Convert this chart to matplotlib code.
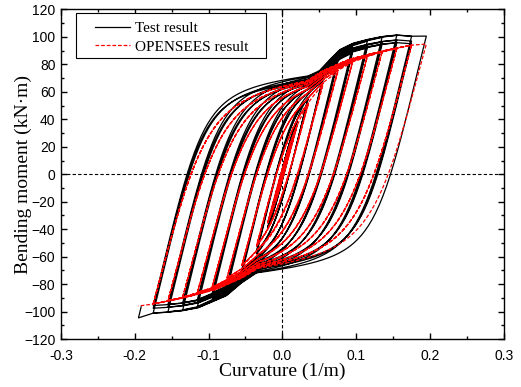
import numpy as np
import matplotlib
matplotlib.use("Agg")
import matplotlib.pyplot as plt
from matplotlib.patches import Rectangle
from matplotlib.ticker import MultipleLocator, FormatStrFormatter

# Loading protocol: curvature amplitudes (1/m) and cycles per amplitude
amplitudes = [0.005, 0.010, 0.020, 0.035, 0.055, 0.075, 0.095, 0.115, 0.135, 0.155, 0.175, 0.195]
cycles = [3, 3, 3, 3, 3, 3, 3, 3, 3, 3, 3, 1]

# Skeleton curves |curvature| -> |moment| (kN·m)
test_pos_k = [0.035, 0.050, 0.066, 0.078, 0.096, 0.115, 0.135, 0.155, 0.175, 0.195]
test_pos_m = [73.0, 76.5, 85.6, 92.0, 96.5, 99.0, 101.0, 102.0, 101.0, 101.0]
test_neg_k = [0.035, 0.055, 0.076, 0.096, 0.114, 0.135, 0.155, 0.175, 0.195]
test_neg_m = [73.0, 80.0, 89.5, 94.0, 98.0, 100.0, 101.0, 101.6, 105.0]
test_repeat_factor = [1.0, 0.965, 0.945]

sim_pos_k = [0.0325, 0.055, 0.091, 0.134, 0.175, 0.193]
sim_pos_m = [71.0, 78.3, 86.0, 91.2, 95.3, 95.8]
sim_neg_k = [0.0325, 0.055, 0.091, 0.134, 0.175, 0.193]
sim_neg_m = [71.0, 78.0, 86.0, 91.5, 95.6, 96.8]
sim_repeat_factor = [1.0, 1.0, 1.0]


def skeleton(ks, ms, s_ext):
    ks = np.asarray(ks, float)
    ms = np.asarray(ms, float)
    s_end = (ms[-1] - ms[-2]) / (ks[-1] - ks[-2])

    def f(k):
        k = np.asarray(k, float)
        m = np.interp(k, ks, ms)
        lo = k < ks[0]
        m[lo] = ms[0] + s_ext * (k[lo] - ks[0])
        hi = k > ks[-1]
        m[hi] = ms[-1] + s_end * (k[hi] - ks[-1])
        return m
    return f


def branch(k0, m0, k1, direction, env, E, R, scale, n=160):
    ks = np.linspace(k0, k1, n)
    lin = direction * E * (ks - k0)
    if direction > 0:
        bound = scale * env[0](ks) - m0
    else:
        bound = m0 + scale * env[1](-ks)
    bound = np.maximum(bound, 1e-6)
    rel = lin * bound / (lin ** R + bound ** R) ** (1.0 / R)
    return ks, m0 + direction * rel


def response(env, E, R, factors, final_unload=None):
    k_all, m_all = [0.0], [0.0]
    k, m = 0.0, 0.0
    for amp, nc in zip(amplitudes, cycles):
        for c in range(nc):
            sc = factors[c]
            for target, d in ((amp, 1), (-amp, -1)):
                ks, ms = branch(k, m, target, d, env, E, R, sc)
                k_all.extend(ks[1:]); m_all.extend(ms[1:])
                k, m = ks[-1], ms[-1]
    if final_unload is not None:
        ks = np.linspace(k, k + final_unload / E, 10)
        ms = m + E * (ks - k)
        k_all.extend(ks[1:]); m_all.extend(ms[1:])
    return np.array(k_all), np.array(m_all)


test_env = (skeleton(test_pos_k, test_pos_m, 60.0), skeleton(test_neg_k, test_neg_m, 60.0))
sim_env = (skeleton(sim_pos_k, sim_pos_m, 60.0), skeleton(sim_neg_k, sim_neg_m, 60.0))

k_test, m_test = response(test_env, 2200.0, 3.5, test_repeat_factor, final_unload=8.0)
k_sim, m_sim = response(sim_env, 2000.0, 3.0, sim_repeat_factor)

plt.rcParams["font.family"] = ["Liberation Sans", "DejaVu Sans"]
fig = plt.figure(figsize=(5.21, 3.87), dpi=100)
ax = fig.add_axes([0.117, 0.124, 0.850, 0.8515])

ax.axhline(0, color="black", lw=0.8, ls=(0, (3, 2)), zorder=1)
ax.axvline(0, color="black", lw=0.8, ls=(0, (3, 2)), zorder=1)

ax.plot(k_test, m_test, color="black", lw=0.9, label="Test result", zorder=2)
ax.plot(k_sim, m_sim, color="red", lw=0.9, ls=(0, (3, 1.5)), label="OPENSEES result", zorder=3)

ax.set_xlim(-0.3, 0.3)
ax.set_ylim(-120, 120)
ax.xaxis.set_major_locator(MultipleLocator(0.1))
ax.xaxis.set_minor_locator(MultipleLocator(0.05))
ax.yaxis.set_major_locator(MultipleLocator(20))
ax.yaxis.set_minor_locator(MultipleLocator(10))
ax.xaxis.set_major_formatter(FormatStrFormatter("%.1f"))
ax.tick_params(which="both", direction="in", top=True, right=True, labelsize=10)
ax.tick_params(axis="x", which="major", pad=7)
ax.tick_params(axis="y", which="major", pad=4)
ax.tick_params(which="major", length=4, width=1)
ax.tick_params(which="minor", length=2.5, width=1)
for s in ax.spines.values():
    s.set_linewidth(1.0)

serif = ["Liberation Serif", "DejaVu Serif"]
ax.set_xlabel("Curvature (1/m)", family=serif, fontsize=14)
ax.set_ylabel("Bending moment (kN·m)", family=serif, fontsize=14)
ax.xaxis.set_label_coords(0.5, -0.072)
ax.yaxis.set_label_coords(-0.066, 0.5)

# legend entries without their own frame; the box is drawn separately
leg = ax.legend(loc="upper left", bbox_to_anchor=(0.0767, 0.963), borderaxespad=0,
                frameon=False, prop={"family": serif, "size": 11}, handlelength=2.3,
                borderpad=0, labelspacing=0.3, handletextpad=0.3)
ax.add_patch(Rectangle((0.0339, 0.8528), 0.4289, 0.1375, transform=ax.transAxes,
                       fill=True, facecolor="white", edgecolor="black", lw=0.8, zorder=4))
leg.set_zorder(5)

fig.savefig("out.png", dpi=100)
